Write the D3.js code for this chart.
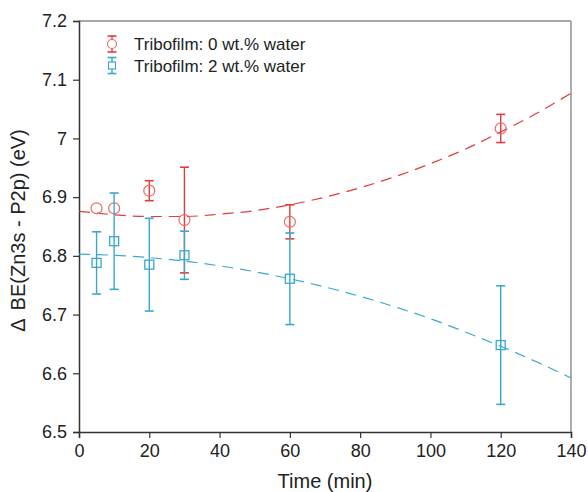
<!DOCTYPE html>
<html>
<head>
<meta charset="utf-8">
<script src="https://d3js.org/d3.v7.min.js"></script>
<style>
body { margin: 0; background: #fff; }
text { font-family: "Liberation Sans", Arial, sans-serif; fill: #222; }
</style>
</head>
<body>
<svg width="588" height="492"></svg>
<script>
// sample times (min)
const times = [5, 10, 20, 30, 60, 120];

// 0 wt.% water
const dryValues = [6.881, 6.881, 6.911, 6.861, 6.858, 7.017];
const dryErrors = [0, 0, 0.017, 0.090, 0.029, 0.024];

// 2 wt.% water
const wetValues = [6.788, 6.825, 6.785, 6.801, 6.761, 6.648];
const wetErrors = [0.053, 0.082, 0.079, 0.041, 0.078, 0.101];

// dashed fit curves, every 10 min
const fitTimes = [0, 10, 20, 30, 40, 50, 60, 70, 80, 90, 100, 110, 120, 130, 140];
const dryFit = [6.876, 6.870, 6.867, 6.867, 6.871, 6.877, 6.887, 6.900, 6.916, 6.935, 6.957, 6.982, 7.011, 7.042, 7.077];
const wetFit = [6.803, 6.801, 6.797, 6.791, 6.783, 6.773, 6.761, 6.747, 6.731, 6.713, 6.693, 6.670, 6.646, 6.620, 6.592];

const xTicks = [0, 20, 40, 60, 80, 100, 120, 140];
const yTicks = [6.5, 6.6, 6.7, 6.8, 6.9, 7.0, 7.1, 7.2];
const legendLabels = ['Tribofilm: 0 wt.% water', 'Tribofilm: 2 wt.% water'];

const red = '#e23b3b';
const blue = '#3aa8cc';

const svg = d3.select('svg');
const margin = {left: 79, right: 17, top: 21, bottom: 60};
const W = 588, H = 492;

const x = d3.scaleLinear().domain([0, 140]).range([margin.left, W - margin.right]);
const y = d3.scaleLinear().domain([6.5, 7.2]).range([H - margin.bottom, margin.top]);

// top / right frame
svg.append('line')
  .attr('x1', x(0)).attr('x2', x(140)).attr('y1', y(7.2)).attr('y2', y(7.2))
  .attr('stroke', '#8a8a8a').attr('stroke-width', 1.4);
svg.append('line')
  .attr('x1', x(140)).attr('x2', x(140)).attr('y1', y(7.2)).attr('y2', y(6.5))
  .attr('stroke', '#8a8a8a').attr('stroke-width', 1.4);

const xAxis = svg.append('g')
  .attr('transform', `translate(0,${y(6.5)})`)
  .call(d3.axisBottom(x).tickValues(xTicks).tickSizeOuter(0).tickSize(6).tickPadding(6));
const yAxis = svg.append('g')
  .attr('transform', `translate(${x(0)},0)`)
  .call(d3.axisLeft(y).tickValues(yTicks).tickFormat(d3.format('~g')).tickSizeOuter(0).tickSize(6).tickPadding(6));

[xAxis, yAxis].forEach(g => {
  g.select('.domain').attr('stroke', '#333').attr('stroke-width', 1.5);
  g.selectAll('.tick line').attr('stroke', '#333').attr('stroke-width', 1.2);
  g.selectAll('.tick text').attr('font-size', 18).attr('fill', '#222')
    .attr('font-family', '"Liberation Sans", Arial, sans-serif');
});

svg.append('text')
  .attr('x', (x(0) + x(140)) / 2).attr('y', 488)
  .attr('text-anchor', 'middle').attr('font-size', 20)
  .text('Time (min)');

const yLab = svg.append('text')
  .attr('transform', `translate(25,${(y(6.5) + y(7.2)) / 2 + 4}) rotate(-90)`)
  .attr('text-anchor', 'middle').attr('font-size', 20);
yLab.append('tspan').text('\u0394');
yLab.append('tspan').attr('dx', 8).text('BE(Zn3s - P2p) (eV)');

// fit lines
const line = d3.line().x(d => x(d[0])).y(d => y(d[1])).curve(d3.curveMonotoneX);
svg.append('path')
  .attr('d', line(fitTimes.map((t, i) => [t, dryFit[i]])))
  .attr('fill', 'none').attr('stroke', red).attr('stroke-width', 1.2)
  .attr('stroke-dasharray', '11,7');
svg.append('path')
  .attr('d', line(fitTimes.map((t, i) => [t, wetFit[i]])))
  .attr('fill', 'none').attr('stroke', blue).attr('stroke-width', 1.2)
  .attr('stroke-dasharray', '11,7');

function errorBar(g, cx, lo, hi, color) {
  g.append('line').attr('x1', cx).attr('x2', cx).attr('y1', lo).attr('y2', hi)
    .attr('stroke', color).attr('stroke-width', 1.4);
  [lo, hi].forEach(v => {
    g.append('line').attr('x1', cx - 4.5).attr('x2', cx + 4.5).attr('y1', v).attr('y2', v)
      .attr('stroke', color).attr('stroke-width', 1.6);
  });
}

const dryG = svg.append('g');
times.forEach((t, i) => {
  if (dryErrors[i] > 0)
    errorBar(dryG, x(t), y(dryValues[i] - dryErrors[i]), y(dryValues[i] + dryErrors[i]), red);
});
dryG.selectAll('circle').data(times).enter().append('circle')
  .attr('cx', d => x(d)).attr('cy', (d, i) => y(dryValues[i]))
  .attr('r', 5.5).attr('fill', 'none').attr('stroke', '#e86a6a').attr('stroke-width', 1.2);

const wetG = svg.append('g');
times.forEach((t, i) => {
  errorBar(wetG, x(t), y(wetValues[i] - wetErrors[i]), y(wetValues[i] + wetErrors[i]), blue);
});
wetG.selectAll('rect').data(times).enter().append('rect')
  .attr('x', d => x(d) - 4.5).attr('y', (d, i) => y(wetValues[i]) - 4.5)
  .attr('width', 9).attr('height', 9)
  .attr('fill', 'none').attr('stroke', blue).attr('stroke-width', 1.3);

// legend
const legend = svg.append('g');
legendLabels.forEach((lab, i) => {
  const cy = 44 + i * 21.5;
  const color = i === 0 ? red : blue;
  errorBar(legend, 112, cy - 8, cy + 8, color);
  if (i === 0) {
    legend.append('circle').attr('cx', 112).attr('cy', cy).attr('r', 4.5)
      .attr('fill', '#fff').attr('stroke', '#e86a6a').attr('stroke-width', 1.2);
  } else {
    legend.append('rect').attr('x', 108.5).attr('y', cy - 3.5).attr('width', 7).attr('height', 7)
      .attr('fill', '#fff').attr('stroke', blue).attr('stroke-width', 1.2);
  }
  legend.append('text').attr('x', 134).attr('y', cy + 6)
    .attr('font-size', 17).text(lab);
});
</script>
</body>
</html>
